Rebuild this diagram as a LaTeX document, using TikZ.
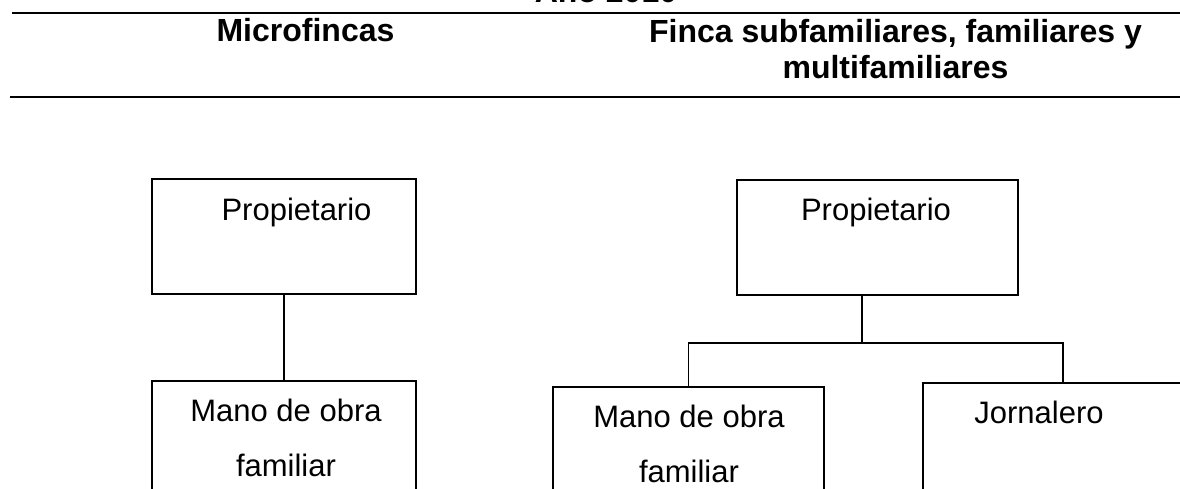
\documentclass[tikz,border=0pt]{standalone}
\usepackage{fontspec}
\setmainfont{Liberation Sans}
\usepackage{tikz}
\usetikzlibrary{positioning}

\begin{document}
\begin{tikzpicture}[x=1pt,y=-1pt,line width=1.6pt,
    box node/.style={rectangle,draw,inner sep=0pt,anchor=north},
    text node/.style={inner sep=0pt,align=center,font=\fontsize{31}{55}\selectfont},
    head node/.style={inner sep=0pt,align=center,font=\bfseries\fontsize{32}{36}\selectfont}]
   \useasboundingbox (0,0) rectangle (1180,489);
   \clip (0,0) rectangle (1180,489);
   % encabezado
   \node[head node,anchor=base] (anio) at (606,3) {Año 2010};
   \draw (12,13) -- (1180,13);
   \node[head node,anchor=base] (micro) at (305.5,42) {Microfincas};
   \node[head node,anchor=north] (fincas) at (895.5,19) {Finca subfamiliares, familiares y\\multifamiliares};
   \draw (10,97) -- (1180,97);
   % microfincas
   \node[box node,minimum width=264pt,minimum height=115pt] (propL) at (284,178) {};
   \node[text node,anchor=base] (tPropL) at (296.5,220) {Propietario};
   \node[box node,minimum width=264pt,minimum height=200pt] (manoL) at (284,380) {};
   \node[text node,anchor=north] (tManoL) at (286,398) {Mano de obra\\familiar};
   \path[-] (propL.south) edge (manoL.north);
   % fincas subfamiliares, familiares y multifamiliares
   \node[box node,minimum width=281pt,minimum height=115pt] (propR) at (877.5,179) {};
   \node[text node,anchor=base] (tPropR) at (876,221) {Propietario};
   \node[box node,minimum width=271pt,minimum height=200pt] (manoR) at (688.5,386) {};
   \node[text node,anchor=north] (tManoR) at (689,404) {Mano de obra\\familiar};
   \node[box node,minimum width=280pt,minimum height=200pt] (jorn) at (1063,382) {};
   \node[text node,anchor=base] (tJorn) at (1039,423) {Jornalero};
   \coordinate (forkR) at (862,343);
   \draw (propR.south -| forkR) -- (forkR);
   \draw (manoR.north) |- (forkR) -| (jorn.north);
\end{tikzpicture}
\end{document}
